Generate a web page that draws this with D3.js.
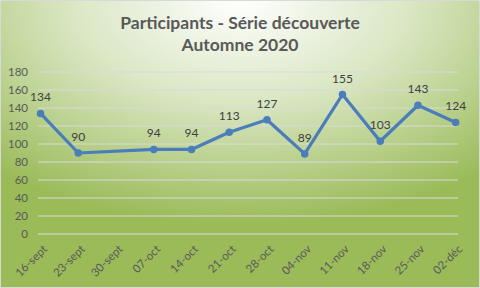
<!DOCTYPE html>
<html>
<head>
<meta charset="utf-8">
<script src="https://cdn.jsdelivr.net/npm/d3@7"></script>
<style>
  body { margin: 0; }
  svg { display: block; font-family: Lato, "Open Sans", sans-serif; }
</style>
</head>
<body>
<div id="chart"></div>
<script>
// chart data
const dates = ["16-sept", "23-sept", "30-sept", "07-oct", "14-oct", "21-oct", "28-oct", "04-nov", "11-nov", "18-nov", "25-nov", "02-déc"];
const participants = [134, 90, null, 94, 94, 113, 127, 89, 155, 103, 143, 124];
const yTicks = [0, 20, 40, 60, 80, 100, 120, 140, 160, 180];
const titleLines = ["Participants - Série découverte", "Automne 2020"];

const W = 480, H = 288;
const svg = d3.select("#chart").append("svg").attr("width", W).attr("height", H);

const defs = svg.append("defs");
const grad = defs.append("radialGradient").attr("id", "bg")
  .attr("cx", "50%").attr("cy", "0%").attr("r", "78%")
  .attr("fx", "50%").attr("fy", "0%");
grad.append("stop").attr("offset", "0%").attr("stop-color", "#ffffff");
grad.append("stop").attr("offset", "45%").attr("stop-color", "#dae7c4");
grad.append("stop").attr("offset", "100%").attr("stop-color", "#9bbb59");

svg.append("rect").attr("x", 0.5).attr("y", 0.5).attr("width", W - 1).attr("height", H - 1)
  .attr("fill", "url(#bg)").attr("stroke", "#d9d9d9");

// title
svg.selectAll(".title").data(titleLines).enter().append("text")
  .attr("x", 240).attr("y", (d, i) => 29 + i * 22)
  .attr("text-anchor", "middle")
  .attr("font-size", 17.5).attr("font-weight", "bold").attr("fill", "#595959")
  .text(d => d);

const x = d3.scalePoint().domain(dates).range([40.5, 455.7]);
const y = d3.scaleLinear().domain([0, 180]).range([234, 72]);

// gridlines
svg.append("g").selectAll("line").data(yTicks).enter().append("line")
  .attr("x1", 38).attr("x2", 458)
  .attr("y1", d => y(d)).attr("y2", d => y(d))
  .attr("stroke", "#d9d9d9").attr("stroke-width", 1);

// y axis labels
const yAxis = svg.append("g").attr("transform", "translate(28,0)")
  .call(d3.axisLeft(y).tickValues(yTicks).tickSize(0).tickPadding(0));
yAxis.select(".domain").remove();
yAxis.selectAll("text").attr("font-size", 11.5).attr("fill", "#595959")
  .attr("font-family", "Lato, 'Open Sans', sans-serif");

// x axis labels, rotated
const xAxis = svg.append("g").attr("transform", "translate(0,0)")
  .call(d3.axisBottom(x).tickSize(0).tickPadding(0));
xAxis.select(".domain").remove();
xAxis.selectAll("text")
  .attr("font-size", 11.5).attr("fill", "#595959")
  .attr("font-family", "Lato, 'Open Sans', sans-serif")
  .attr("text-anchor", "end")
  .attr("y", 0).attr("dy", "0.35em")
  .attr("transform", "translate(4,247) rotate(-45)");

// line (skip the missing week)
const pts = dates.map((d, i) => ({ d, v: participants[i] })).filter(p => p.v != null);
const line = d3.line().x(p => x(p.d)).y(p => y(p.v));
svg.append("path").datum(pts).attr("d", line)
  .attr("fill", "none").attr("stroke", "#4a7ebb").attr("stroke-width", 3.25)
  .attr("stroke-linejoin", "round");

svg.append("g").selectAll("circle").data(pts).enter().append("circle")
  .attr("cx", p => x(p.d)).attr("cy", p => y(p.v)).attr("r", 3.75)
  .attr("fill", "#4a7ebb");

// data labels
svg.append("g").selectAll("text").data(pts).enter().append("text")
  .attr("x", p => x(p.d)).attr("y", p => y(p.v) - 12)
  .attr("text-anchor", "middle")
  .attr("font-size", 12).attr("fill", "#404040")
  .text(p => p.v);
</script>
</body>
</html>
